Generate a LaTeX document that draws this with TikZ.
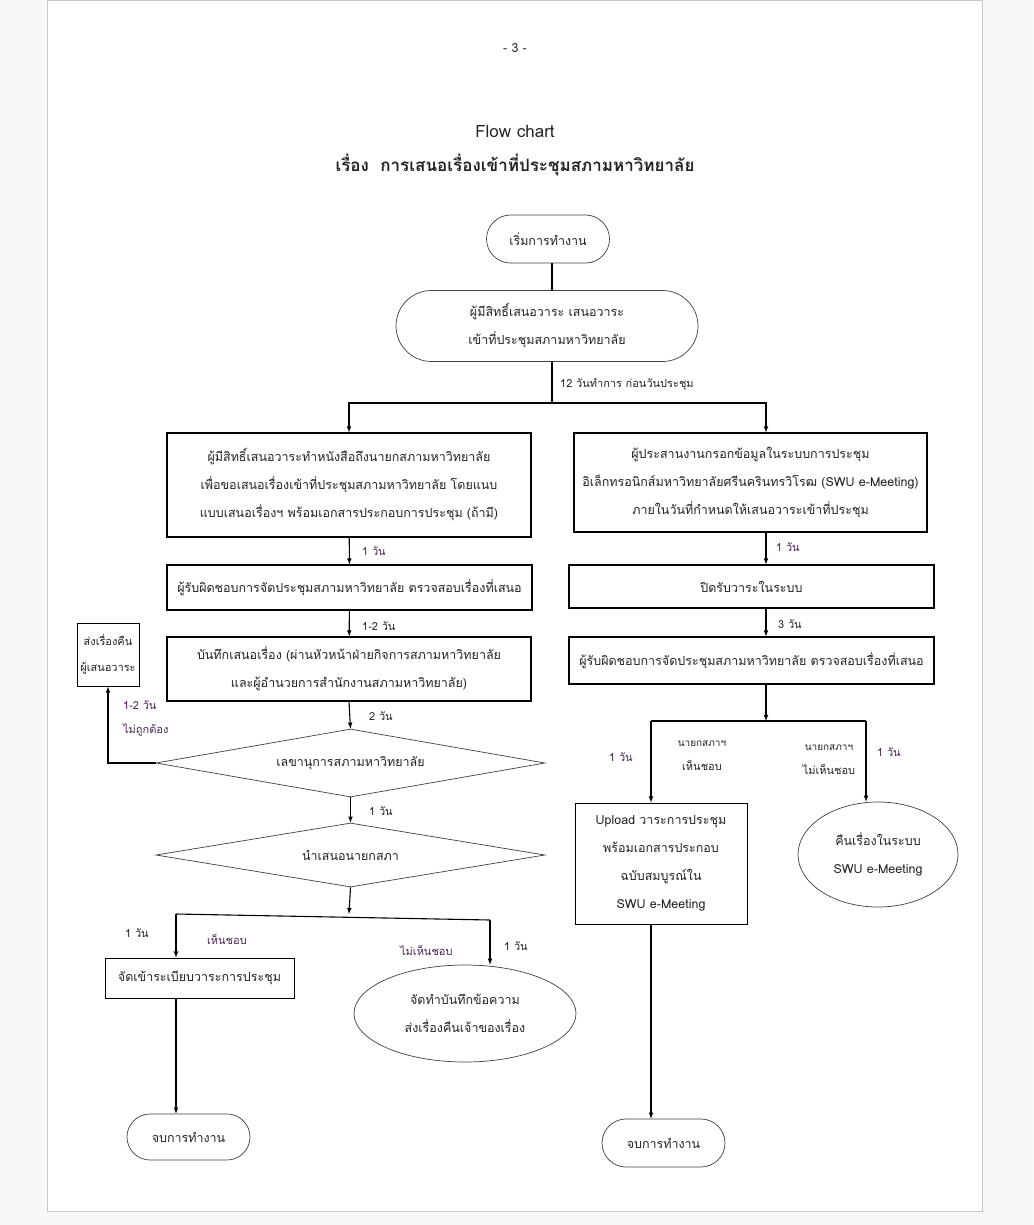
\documentclass[tikz,border=0pt]{standalone}
\usepackage{fontspec}
\newfontfamily\thaifont[Script=Thai]{Loma}
\usetikzlibrary{shapes.geometric, shapes.misc, arrows, positioning}
\definecolor{pagegray}{RGB}{248,248,248}
\definecolor{edgegray}{RGB}{200,200,200}
\definecolor{inkgray}{RGB}{35,35,35}
\definecolor{daypurple}{RGB}{75,35,85}

\begin{document}
\begin{tikzpicture}[x=1pt, y=-1pt,
    every node/.style={font=\thaifont\fontsize{12.5}{28}\selectfont, text=inkgray},
    box/.style={rectangle, draw=black, line width=1.1pt, align=center, inner sep=0pt},
    term/.style={rounded rectangle, draw=black!75, line width=0.7pt, align=center, inner sep=0pt},
    decision/.style={diamond, aspect=5.7, draw=black!75, line width=0.7pt, inner sep=0pt},
    oval/.style={ellipse, draw=black!75, line width=0.7pt, align=center, inner sep=0pt},
    note/.style={font=\thaifont\fontsize{11}{24}\selectfont, inner sep=1pt, anchor=west},
    arrow/.style={-latex, line width=1.1pt},
    link/.style={line width=1.1pt}
]
    % Page
    \fill[pagegray] (0,0) rectangle (1033,1225);
    \filldraw[fill=white, draw=edgegray, line width=1pt] (47,1) rectangle (982,1211);
    \useasboundingbox (0,0) rectangle (1033,1225);

    % Heading
    \node (pageno) at (515,48) {- 3 -};
    \node[font=\thaifont\fontsize{17}{20}\selectfont] (head) at (515,131) {Flow chart};
    \node[font=\thaifont\bfseries\fontsize{17}{20}\selectfont] (title) at (515,165) {เรื่อง\ \ การเสนอเรื่องเข้าที่ประชุมสภามหาวิทยาลัย};

    % Start
    \node[term, minimum width=123pt, minimum height=48pt] (start) at (548,239) {เริ่มการทำงาน};
    \node[term, minimum width=302pt, minimum height=71pt] (propose) at (547,326) {ผู้มีสิทธิ์เสนอวาระ เสนอวาระ\\เข้าที่ประชุมสภามหาวิทยาลัย};
    \coordinate (split1) at (552,403);

    % Left column
    \node[box, minimum width=364pt, minimum height=104pt] (letter) at (349,485) {ผู้มีสิทธิ์เสนอวาระทำหนังสือถึงนายกสภามหาวิทยาลัย\\เพื่อขอเสนอเรื่องเข้าที่ประชุมสภามหาวิทยาลัย โดยแนบ\\แบบเสนอเรื่องฯ พร้อมเอกสารประกอบการประชุม (ถ้ามี)};
    \node[box, minimum width=365pt, minimum height=45pt] (checkL) at (349.5,587.5) {ผู้รับผิดชอบการจัดประชุมสภามหาวิทยาลัย ตรวจสอบเรื่องที่เสนอ};
    \node[box, minimum width=364pt, minimum height=64pt] (memo) at (349,669) {บันทึกเสนอเรื่อง (ผ่านหัวหน้าฝ่ายกิจการสภามหาวิทยาลัย\\และผู้อำนวยการสำนักงานสภามหาวิทยาลัย)};
    \node[decision, minimum width=389pt, minimum height=68pt] (secretary) at (350.5,763) {เลขานุการสภามหาวิทยาลัย};
    \node[box, minimum width=62pt, minimum height=63pt, line width=0.9pt, font=\thaifont\fontsize{11}{26}\selectfont] (back) at (108,654.5) {ส่งเรื่องคืน\\ผู้เสนอวาระ};
    \node[decision, minimum width=389pt, minimum height=64pt] (present) at (350.5,855) {นำเสนอนายกสภา};
    \coordinate (split2) at (349,914);
    \coordinate (yes2) at (176,914);
    \coordinate (no2) at (490,920);
    \node[box, minimum width=189pt, minimum height=40pt, line width=0.9pt] (agenda) at (199.5,978) {จัดเข้าระเบียบวาระการประชุม};
    \node[oval, minimum width=222pt, minimum height=97pt] (refuse) at (465,1013.5) {จัดทำบันทึกข้อความ\\ส่งเรื่องคืนเจ้าของเรื่อง};
    \node[term, minimum width=123pt, minimum height=46pt] (endL) at (188.5,1137) {จบการทำงาน};

    % Right column
    \node[box, minimum width=353pt, minimum height=99pt] (fill) at (750.5,482.5) {ผู้ประสานงานกรอกข้อมูลในระบบการประชุม\\อิเล็กทรอนิกส์มหาวิทยาลัยศรีนครินทรวิโรฒ (SWU e-Meeting)\\ภายในวันที่กำหนดให้เสนอวาระเข้าที่ประชุม};
    \node[box, minimum width=365pt, minimum height=43pt] (close) at (751.5,586.5) {ปิดรับวาระในระบบ};
    \node[box, minimum width=365pt, minimum height=47pt] (checkR) at (751.5,660.5) {ผู้รับผิดชอบการจัดประชุมสภามหาวิทยาลัย ตรวจสอบเรื่องที่เสนอ};
    \coordinate (split3) at (766,721);
    \coordinate (yes3) at (651,721);
    \coordinate (no3) at (866,721);
    \node[box, minimum width=172pt, minimum height=121pt, line width=0.9pt] (upload) at (661,863.5) {Upload วาระการประชุม\\พร้อมเอกสารประกอบ\\ฉบับสมบูรณ์ใน\\SWU e-Meeting};
    \node[oval, minimum width=160pt, minimum height=105pt] (returnR) at (878,854.5) {คืนเรื่องในระบบ\\SWU e-Meeting};
    \node[term, minimum width=123pt, minimum height=48pt] (endR) at (663.5,1143) {จบการทำงาน};

    % Connectors
    \draw[link] (start.south -| split1) -- (propose.north -| split1);
    \draw[link] (propose.south -| split1) -- (split1);
    \draw[arrow] (split1) -| (letter.north);
    \draw[arrow] (split1) -| (split3 |- fill.north);
    \draw[arrow] (letter) -- (checkL);
    \draw[arrow] (checkL) -- (memo);
    \draw[arrow] (memo.south) -- (secretary.north);
    \draw[arrow] (secretary.west) -| (back.south);
    \draw[arrow] (secretary.south) -- (present.north);
    \draw[arrow] (present.south) -- (split2);
    \draw[link] (yes2) -- (no2);
    \draw[arrow] (yes2) -- (yes2 |- agenda.north);
    \draw[arrow] (no2) -- (no2 |- refuse.north);
    \draw[arrow] (yes2 |- agenda.south) -- (yes2 |- endL.north);
    \draw[arrow] (split3 |- fill.south) -- (split3 |- close.north);
    \draw[arrow] (split3 |- close.south) -- (split3 |- checkR.north);
    \draw[arrow] (split3 |- checkR.south) -- (split3);
    \draw[link] (yes3) -- (no3);
    \draw[arrow] (yes3) -- (yes3 |- upload.north);
    \draw[arrow] (no3) -- (no3 |- returnR.north);
    \draw[arrow] (yes3 |- upload.south) -- (yes3 |- endR.north);

    % Time and decision labels
    \node[note] (t12) at (559,384) {12 วันทำการ ก่อนวันประชุม};
    \node[note, text=daypurple] (tL1) at (361,551) {1 วัน};
    \node[note] (tL2) at (361,626) {1-2 วัน};
    \node[note] (tL3) at (368,716) {2 วัน};
    \node[note, align=left, text=daypurple] (tback) at (122,719) {1-2 วัน\\ไม่ถูกต้อง};
    \node[note] (tL4) at (368,811) {1 วัน};
    \node[note] (tyes2) at (124,933) {1 วัน};
    \node[note, text=daypurple] (yes2lbl) at (206,939) {เห็นชอบ};
    \node[note, text=daypurple] (no2lbl) at (399,950) {ไม่เห็นชอบ};
    \node[note] (tno2) at (503,946) {1 วัน};
    \node[note, text=daypurple] (tR1) at (775,547) {1 วัน};
    \node[note] (tR2) at (777,624) {3 วัน};
    \node[note, text=daypurple] (tyes3) at (608,757) {1 วัน};
    \node[note, anchor=center, align=center] (yes3lbl) at (702,755.5) {{\fontsize{10}{24}\selectfont นายกสภาฯ}\\เห็นชอบ};
    \node[note, anchor=center, align=center] (no3lbl) at (829,760) {{\fontsize{10}{24}\selectfont นายกสภาฯ}\\ไม่เห็นชอบ};
    \node[note, text=daypurple] (tno3) at (876,752) {1 วัน};

\end{tikzpicture}
\end{document}
